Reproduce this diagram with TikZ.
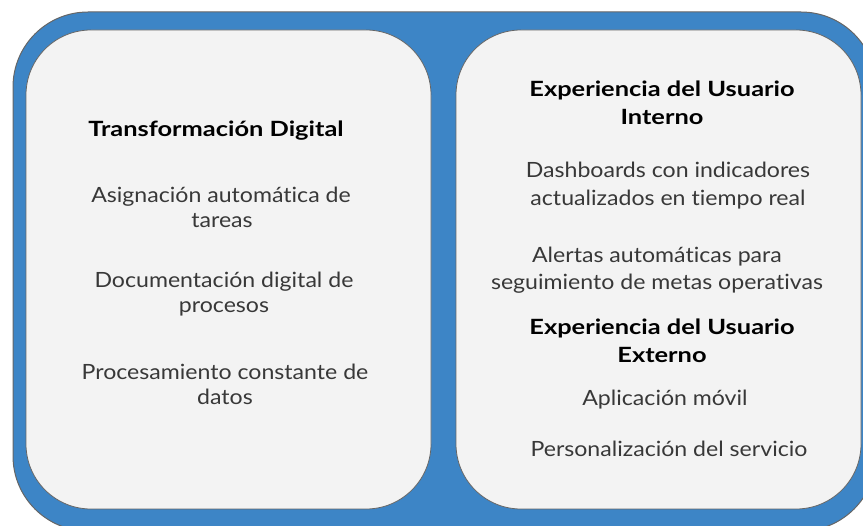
\documentclass[tikz,border=0pt]{standalone}
\usepackage{fontspec}
\setmainfont{Lato}[Ligatures={NoCommon}, FakeStretch=1.1, BoldFeatures={FakeStretch=1.21}]
\definecolor{bandblue}{HTML}{3D85C6}
\definecolor{panelgray}{HTML}{F3F3F3}
\definecolor{edgegray}{HTML}{666666}
\definecolor{bodytext}{HTML}{383838}
\begin{document}
\begin{tikzpicture}[x=1pt,y=-1pt,
  band/.style={fill=bandblue, draw=edgegray, line width=1pt, rounded corners=75pt},
  panel/.style={fill=panelgray, draw=edgegray, line width=0.8pt, rounded corners=65pt},
  body/.style={anchor=base, font=\fontsize{21}{25}\selectfont, text=bodytext, inner sep=0pt},
  head/.style={anchor=base, font=\fontsize{21}{25}\selectfont\bfseries, text=black, inner sep=0pt}]
\useasboundingbox (0,0) rectangle (863,526);
\begin{scope}
  \clip (0,0) rectangle (863,526);
  \draw[band] (13,12) rectangle (876,531);
  \draw[panel] (26,30) rectangle (431,509);
  \draw[panel] (456,30) rectangle (861,509);
\end{scope}
% left panel
\node[head] (h1) at (216,137) {Transformación Digital};
\node[body] (l1a) at (221,203) {Asignación automática de};
\node[body] (l1b) at (222,228) {tareas};
\node[body] (l2a) at (224,288) {Documentación digital de};
\node[body] (l2b) at (224,313) {procesos};
\node[body] (l3a) at (225,380) {Procesamiento constante de};
\node[body] (l3b) at (225,405) {datos};
% right panel
\node[head] (h2a) at (662,97) {Experiencia del Usuario};
\node[head] (h2b) at (662,125) {Interno};
\node[body] (r1a) at (668,178) {Dashboards con indicadores};
\node[body] (r1b) at (668,206) {actualizados en tiempo real};
\node[body] (r2a) at (657,263) {Alertas automáticas para};
\node[body] (r2b) at (657,290) {seguimiento de metas operativas};
\node[head] (h3a) at (662,335) {Experiencia del Usuario};
\node[head] (h3b) at (662,363) {Externo};
\node[body] (r3) at (665,406) {Aplicación móvil};
\node[body] (r4) at (669,457) {Personalización del servicio};
\end{tikzpicture}
\end{document}
